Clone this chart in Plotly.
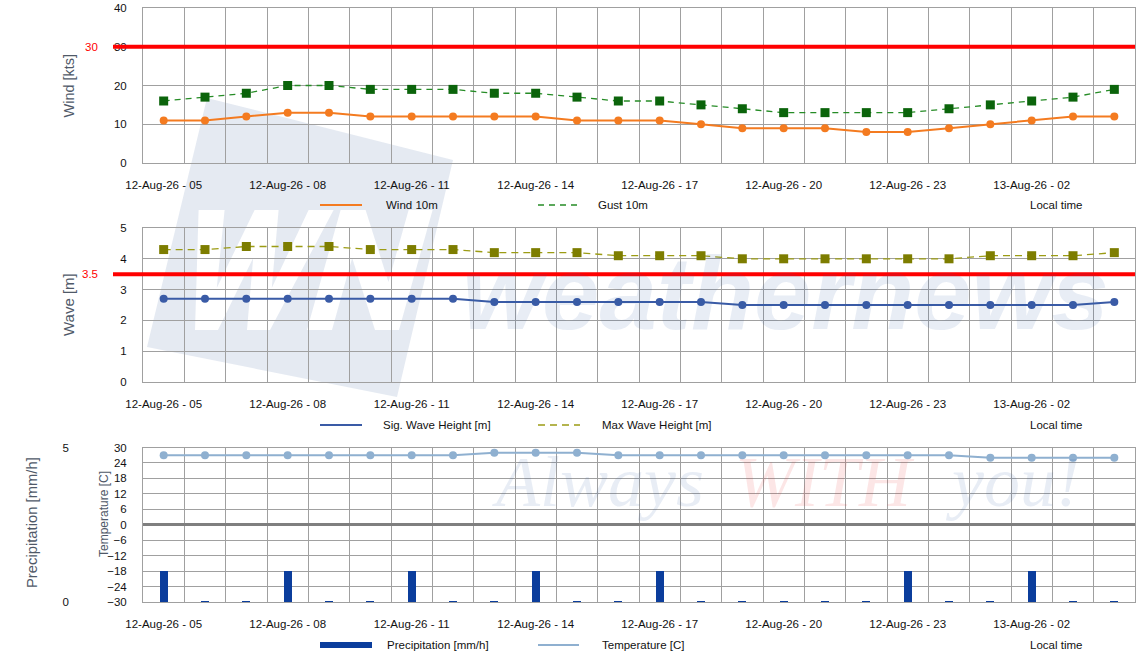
import plotly.graph_objects as go

# ---------------- data ----------------
times = [
    "12-Aug-26 - 05", "12-Aug-26 - 06", "12-Aug-26 - 07", "12-Aug-26 - 08",
    "12-Aug-26 - 09", "12-Aug-26 - 10", "12-Aug-26 - 11", "12-Aug-26 - 12",
    "12-Aug-26 - 13", "12-Aug-26 - 14", "12-Aug-26 - 15", "12-Aug-26 - 16",
    "12-Aug-26 - 17", "12-Aug-26 - 18", "12-Aug-26 - 19", "12-Aug-26 - 20",
    "12-Aug-26 - 21", "12-Aug-26 - 22", "12-Aug-26 - 23", "13-Aug-26 - 00",
    "13-Aug-26 - 01", "13-Aug-26 - 02", "13-Aug-26 - 03", "13-Aug-26 - 04",
]
wind = [11, 11, 12, 13, 13, 12, 12, 12, 12, 12, 11, 11,
        11, 10, 9, 9, 9, 8, 8, 9, 10, 11, 12, 12]
gust = [16, 17, 18, 20, 20, 19, 19, 19, 18, 18, 17, 16,
        16, 15, 14, 13, 13, 13, 13, 14, 15, 16, 17, 19]
sig_wave = [2.7, 2.7, 2.7, 2.7, 2.7, 2.7, 2.7, 2.7, 2.6, 2.6, 2.6, 2.6,
            2.6, 2.6, 2.5, 2.5, 2.5, 2.5, 2.5, 2.5, 2.5, 2.5, 2.5, 2.6]
max_wave = [4.3, 4.3, 4.4, 4.4, 4.4, 4.3, 4.3, 4.3, 4.2, 4.2, 4.2, 4.1,
            4.1, 4.1, 4.0, 4.0, 4.0, 4.0, 4.0, 4.0, 4.1, 4.1, 4.1, 4.2]
precip = [1.0, 0.03, 0.03, 1.0, 0.03, 0.03, 1.0, 0.03, 0.03, 1.0, 0.03, 0.03,
          1.0, 0.03, 0.03, 0.03, 0.03, 0.03, 1.0, 0.03, 0.03, 1.0, 0.03, 0.03]
temperature = [27, 27, 27, 27, 27, 27, 27, 27, 28, 28, 28, 27,
               27, 27, 27, 27, 27, 27, 27, 27, 26, 26, 26, 26]
wind_limit = 30
wave_limit = 3.5
label_step = 3

# ---------------- geometry helpers ----------------
W, H = 1144, 661
ML, MR, MT, MB = 0, 9, 8, 59
PW, PH = W - ML - MR, H - MT - MB


def px(x):
    return (x - ML) / PW


def py(y):
    return (H - MB - y) / PH


xi = list(range(len(times)))
bounds = [i - 0.5 for i in range(len(times) + 1)]
tickvals = xi[::label_step]
ticktext = times[::label_step]

GRID = "#a0a0a0"
TICKFONT = dict(family="Liberation Sans, Arial, sans-serif", size=11.5, color="#111111")
TITLECOLOR = "#4f5968"
TITLEFAMILY = "Liberation Sans, Arial, sans-serif"

fig = go.Figure()

fig.add_trace(go.Scatter(x=xi, y=wind, mode="lines+markers", xaxis="x", yaxis="y",
                         line=dict(color="#f47b20", width=2),
                         marker=dict(symbol="circle", size=8, color="#f47b20"),
                         showlegend=False, name="Wind 10m"))
fig.add_trace(go.Scatter(x=xi, y=gust, mode="lines+markers", xaxis="x", yaxis="y",
                         line=dict(color="#268c26", width=1.3, dash="6px,5px"),
                         marker=dict(symbol="square", size=9, color="#0b640b"),
                         showlegend=False, name="Gust 10m"))
fig.add_trace(go.Scatter(x=xi, y=sig_wave, mode="lines+markers", xaxis="x2", yaxis="y2",
                         line=dict(color="#3a5ba6", width=2),
                         marker=dict(symbol="circle", size=8, color="#3a5ba6"),
                         showlegend=False, name="Sig. Wave Height [m]"))
fig.add_trace(go.Scatter(x=xi, y=max_wave, mode="lines+markers", xaxis="x2", yaxis="y2",
                         line=dict(color="#9c9c14", width=1.3, dash="7px,5px"),
                         marker=dict(symbol="square", size=9, color="#7d7d00"),
                         showlegend=False, name="Max Wave Height [m]"))
fig.add_trace(go.Scatter(x=xi, y=temperature, mode="lines+markers", xaxis="x3", yaxis="y3",
                         line=dict(color="#8fb0d0", width=2),
                         marker=dict(symbol="circle", size=8, color="#8fb0d0"),
                         showlegend=False, name="Temperature [C]"))
fig.add_trace(go.Bar(x=xi, y=precip, xaxis="x3", yaxis="y4", width=0.2,
                     marker=dict(color="#0b3d9c", line=dict(width=0)),
                     showlegend=False, name="Precipitation [mm/h]"))

xcommon = dict(range=[-0.5, len(times) - 0.5], tickmode="array", tickvals=tickvals,
               ticktext=ticktext, showgrid=False, showline=True, mirror=True,
               linecolor=GRID, linewidth=1, zeroline=False, ticks="",
               ticklabelstandoff=11, tickfont=TICKFONT, fixedrange=True,
               automargin=False, domain=[px(143), 1],
               minor=dict(tickmode="array", tickvals=bounds, showgrid=True,
                          gridcolor=GRID, gridwidth=1, ticks=""))
ycommon = dict(showgrid=True, gridcolor=GRID, gridwidth=1, showline=True, mirror=True,
               linecolor=GRID, linewidth=1, zeroline=False, ticks="",
               ticklabelstandoff=13, tickfont=TICKFONT, fixedrange=True,
               automargin=False)

fig.update_layout(
    width=W, height=H,
    margin=dict(l=ML, r=MR, t=MT, b=MB, pad=0, autoexpand=False),
    paper_bgcolor="white", plot_bgcolor="rgba(0,0,0,0)",
    showlegend=False, bargap=0,
    xaxis=dict(xcommon, anchor="y"),
    xaxis2=dict(xcommon, anchor="y2"),
    xaxis3=dict(xcommon, anchor="y3"),
    yaxis=dict(ycommon, anchor="x", domain=[py(163), py(8)], range=[0, 40], dtick=10),
    yaxis2=dict(ycommon, anchor="x2", domain=[py(382), py(228)], range=[0, 5], dtick=1),
    yaxis3=dict(ycommon, anchor="x3", domain=[py(602), py(447.5)], range=[-30, 30],
                tick0=0, dtick=6, zeroline=True, zerolinecolor="#7f7f7f", zerolinewidth=3),
    yaxis4=dict(overlaying="y3", anchor="free", side="left", position=px(69),
                range=[0, 5], tickmode="array", tickvals=[0, 5], showgrid=False,
                zeroline=False, showline=False, ticks="", ticklabelstandoff=0,
                tickfont=TICKFONT, fixedrange=True, automargin=False),
)

shapes = []
annotations = []


# ---- watermark logo (block with letter holes) ----
def P(x, y):
    return f"{px(x):.5f},{py(y):.5f}"


block = [(207, 98), (453, 160), (397, 397), (147, 347)]
slant = 0.28
bx, by = 157, 330


def letter(pts):
    return [(bx + u + slant * v, by - v) for u, v in pts]


W_pts = [(8, 120), (34, 120), (48, 42), (64, 120), (88, 120), (103, 42), (118, 120),
         (143, 120), (113, 0), (90, 0), (76, 72), (61, 0), (38, 0)]
N_pts = [(150, 0), (150, 120), (175, 120), (218, 48), (218, 120), (242, 120),
         (242, 0), (218, 0), (175, 72), (175, 0)]
path = ""
for poly in [block, letter(W_pts), letter(N_pts)]:
    path += "M " + " L ".join(P(x, y) for x, y in poly) + " Z "
shapes.append(dict(type="path", xref="paper", yref="paper", path=path,
                   fillcolor="rgba(40,80,150,0.12)", fillrule="evenodd",
                   line=dict(width=0), layer="below"))

WM_BLUE = "rgba(50,90,160,0.11)"
annotations.append(dict(xref="paper", yref="paper", x=px(460), y=py(293),
                        xanchor="left", yanchor="middle", showarrow=False,
                        text="<b><i>weathernews</i></b>",
                        font=dict(family="Liberation Sans, Arial, sans-serif", size=103,
                                  color=WM_BLUE)))
for word, x0, col in [("Always", 490, WM_BLUE), ("WITH", 733, "rgba(235,60,60,0.13)"),
                      ("you!", 943, WM_BLUE)]:
    annotations.append(dict(xref="paper", yref="paper", x=px(x0), y=py(482),
                            xanchor="left", yanchor="middle", showarrow=False,
                            text=f"<i>{word}</i>",
                            font=dict(family="Liberation Serif, Times New Roman, serif",
                                      size=72, color=col)))

# ---- threshold lines ----
shapes.append(dict(type="line", xref="paper", yref="y", x0=px(113), x1=1,
                   y0=wind_limit, y1=wind_limit, line=dict(color="#ff0000", width=4)))
shapes.append(dict(type="line", xref="paper", yref="y2", x0=px(113), x1=1,
                   y0=wave_limit, y1=wave_limit, line=dict(color="#ff0000", width=4)))
for val, yr in [(wind_limit, "y"), (wave_limit, "y2")]:
    annotations.append(dict(xref="paper", yref=yr, x=px(100), y=val, xanchor="right",
                            yanchor="middle", showarrow=False, text=f"{val:g}",
                            font=dict(family="Liberation Sans, Arial, sans-serif",
                                      size=11.5, color="#ff0000")))

# ---- axis titles ----
for text, cx, cy, fs in [("Wind [kts]", 68, 85.5, 14.5), ("Wave [m]", 68, 305, 15),
                         ("Precipitation [mm/h]", 32, 523, 14.8),
                         ("Temperature [C]", 104, 514, 12)]:
    annotations.append(dict(xref="paper", yref="paper", x=px(cx), y=py(cy),
                            xanchor="center", yanchor="middle", showarrow=False,
                            text=text, textangle=-90,
                            font=dict(family=TITLEFAMILY, size=fs, color=TITLECOLOR)))

# ---- legends ----
LEGFONT = dict(family="Liberation Sans, Arial, sans-serif", size=11.5, color="#111111")
legend_rows = [
    (205, [("Wind 10m", "#f47b20", 2, "solid", 320, 362, 384),
           ("Gust 10m", "#268c26", 1.5, "6px,5px", 538, 580, 596)]),
    (425, [("Sig. Wave Height [m]", "#3a5ba6", 2, "solid", 320, 362, 381),
           ("Max Wave Height [m]", "#9c9c14", 1.5, "7px,5px", 538, 580, 600)]),
    (645, [("Precipitation [mm/h]", "#0b3d9c", 6, "solid", 320, 372, 385),
           ("Temperature [C]", "#8fb0d0", 2, "solid", 538, 579, 600)]),
]
for ry, items in legend_rows:
    for name, col, lw, dash, x0, x1, tx in items:
        shapes.append(dict(type="line", xref="paper", yref="paper", x0=px(x0), x1=px(x1),
                           y0=py(ry), y1=py(ry), line=dict(color=col, width=lw, dash=dash)))
        annotations.append(dict(xref="paper", yref="paper", x=px(tx), y=py(ry),
                                xanchor="left", yanchor="middle", showarrow=False,
                                text=name, font=LEGFONT))
    annotations.append(dict(xref="paper", yref="paper", x=px(1028), y=py(ry),
                            xanchor="left", yanchor="middle", showarrow=False,
                            text="Local time", font=LEGFONT))

fig.update_layout(shapes=shapes, annotations=annotations)
fig.write_html("out.html", config={"displayModeBar": False, "staticPlot": True},
               post_script="document.body.style.margin='0';document.body.style.overflow='hidden';")
